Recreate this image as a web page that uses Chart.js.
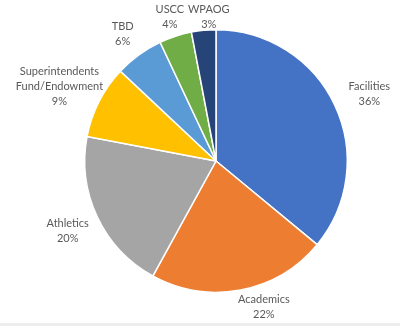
<!DOCTYPE html>
<html>
<head>
<meta charset="utf-8">
<script src="https://cdn.jsdelivr.net/npm/chart.js@4"></script>
<style>
  html, body { margin: 0; padding: 0; background: #fff; }
  #wrap { width: 400px; height: 323px; position: relative; border-bottom: 3px solid #ededed; }
</style>
</head>
<body>
<div id="wrap"><canvas id="pie" width="400" height="323"></canvas></div>
<script>
// slice order: clockwise from 12 o'clock
const labels = ['Facilities', 'Academics', 'Athletics', 'Superintendents\nFund/Endowment', 'TBD', 'USCC', 'WPAOG'];
const shares = [36, 22, 20, 9, 6, 4, 3];
const colors = ['#4472C4', '#ED7D31', '#A5A5A5', '#FFC000', '#5B9BD5', '#70AD47', '#264478'];

// label nudges (dx, dy) from the default outside-anchor
const nudges = [[6.5, 2], [17.5, -13], [-1.5, 0.5], [-12, -0.5], [2, 4], [4, 10], [8, 17.5]];

const outsideLabels = {
    id: 'outsideLabels',
    afterDatasetsDraw(chart) {
        const ctx = chart.ctx;
        const meta = chart.getDatasetMeta(0);
        ctx.save();
        ctx.font = '11px Lato, "Open Sans", sans-serif';
        ctx.fillStyle = '#595959';
        ctx.textAlign = 'center';
        ctx.textBaseline = 'middle';
        meta.data.forEach((arc, i) => {
            const mid = (arc.startAngle + arc.endAngle) / 2;
            const r = arc.outerRadius + 31;
            const x = arc.x + Math.cos(mid) * r + nudges[i][0];
            const y = arc.y + Math.sin(mid) * r + nudges[i][1];
            const lines = labels[i].split('\n').concat(shares[i] + '%');
            const lh = 15;
            const top = y - (lines.length - 1) * lh / 2;
            lines.forEach((t, k) => ctx.fillText(t, x, top + k * lh));
        });
        ctx.restore();
    }
};

new Chart(document.getElementById('pie'), {
    type: 'pie',
    data: {
        labels: labels,
        datasets: [{
            data: shares,
            backgroundColor: colors,
            borderColor: '#ffffff',
            borderWidth: 1.5
        }]
    },
    options: {
        responsive: false,
        animation: false,
        layout: { padding: { top: 29, bottom: 30, left: 32, right: 0 } },
        plugins: { legend: { display: false }, tooltip: { enabled: false } }
    },
    plugins: [outsideLabels]
});
</script>
</body>
</html>
